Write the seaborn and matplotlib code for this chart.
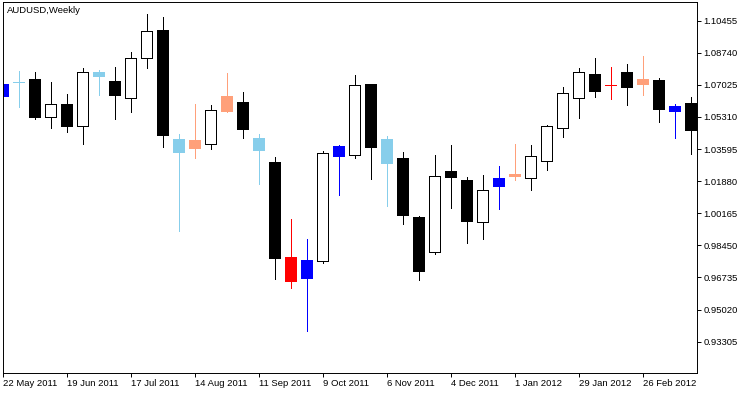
import matplotlib
matplotlib.use("Agg")
import matplotlib.pyplot as plt
import seaborn as sns

# weekly AUDUSD candles, 22 May 2011 .. Mar 2012
opens  = [1.06448, 1.07180, 1.07340, 1.05294, 1.05988, 1.04845, 1.07698, 1.07233, 1.06341, 1.08446,
          1.09958, 1.04118, 1.03669, 1.03851, 1.05646, 1.06095, 1.04188, 1.02905, 0.97829, 0.96724,
          0.97600, 1.03242, 1.03295, 1.07073, 1.04134, 1.03119, 0.99967, 0.98080, 1.02424, 1.01943,
          0.99683, 1.01639, 1.02173, 1.02035, 1.02943, 1.04706, 1.06341, 1.07607, 1.07019, 1.07714,
          1.07089, 1.07287, 1.05646, 1.06058]
highs  = [1.07120, 1.07767, 1.07730, 1.07180, 1.06539, 1.07912, 1.07837, 1.07981, 1.08783, 1.10813,
          1.10653, 1.04401, 1.06004, 1.05951, 1.07661, 1.06629, 1.04401, 1.03172, 0.99860, 0.98791,
          1.03493, 1.03798, 1.07554, 1.07073, 1.04295, 1.03440, 1.00020, 1.03279, 1.03814, 1.02104,
          1.02211, 1.02708, 1.03883, 1.03814, 1.04882, 1.06913, 1.07928, 1.08462, 1.07981, 1.08158,
          1.08585, 1.07393, 1.06004, 1.06378]
lows   = [1.06420, 1.05860, 1.05219, 1.04738, 1.04524, 1.03883, 1.06485, 1.05219, 1.05593, 1.07944,
          1.03723, 0.99235, 1.03135, 1.03616, 1.05593, 1.04204, 1.01746, 0.96670, 0.96189, 0.93892,
          0.97525, 1.01158, 1.03135, 1.02013, 1.00538, 0.99609, 0.96617, 0.98006, 1.00464, 0.98594,
          0.98807, 1.00394, 1.01943, 1.01409, 1.02494, 1.04257, 1.05272, 1.06394, 1.06287, 1.05967,
          1.06485, 1.05059, 1.04204, 1.03349]
closes = [1.07073, 1.07180, 1.05310, 1.05988, 1.04845, 1.07698, 1.07516, 1.06485, 1.08446, 1.09889,
          1.04364, 1.03456, 1.04081, 1.05668, 1.06416, 1.04685, 1.03563, 0.97792, 0.96563, 0.97669,
          1.03370, 1.03760, 1.07003, 1.03723, 1.02868, 1.00058, 0.97097, 1.02157, 1.02120, 0.99769,
          1.01393, 1.02051, 1.02280, 1.03226, 1.04829, 1.06576, 1.07698, 1.06715, 1.07019, 1.06913,
          1.07340, 1.05753, 1.05897, 1.04631]
# indicator signal per bar ("" = plain candle)
signals = ["bull_strong", "bear_weak", "", "", "", "", "bear_weak", "", "", "",
           "", "bear_weak", "bull_weak", "", "bull_weak", "", "bear_weak", "", "bear_strong", "bull_strong",
           "", "bull_strong", "", "", "bear_weak", "", "", "", "", "",
           "", "bull_strong", "bull_weak", "", "", "", "", "", "bear_strong", "",
           "bull_weak", "", "bull_strong", ""]

date_labels = ["22 May 2011", "19 Jun 2011", "17 Jul 2011", "14 Aug 2011", "11 Sep 2011",
               "9 Oct 2011", "6 Nov 2011", "4 Dec 2011", "1 Jan 2012", "29 Jan 2012", "26 Feb 2012"]
price_ticks = [1.10455, 1.08740, 1.07025, 1.05310, 1.03595, 1.01880,
               1.00165, 0.98450, 0.96735, 0.95020, 0.93305]

SIGNAL_COLORS = {"bull_strong": "#0000ff", "bull_weak": "#ffa07a",
                 "bear_strong": "#ff0000", "bear_weak": "#87ceeb"}

sns.set_theme(style="white")
plt.rcParams["font.family"] = ["Liberation Sans", "DejaVu Sans"]

W, H = 750, 394
fig = plt.figure(figsize=(W / 100, H / 100), dpi=100)
L, R, T, B = 2.5, 697.0, 2.0, 372.5
ax = fig.add_axes([L / W, 1 - B / H, (R - L) / W, (B - T) / H])

LW = 0.7  # ~1 px
for k, (o, h, l, c, s) in enumerate(zip(opens, highs, lows, closes, signals)):
    if s:
        face = edge = SIGNAL_COLORS[s]
    else:
        face = "white" if c >= o else "black"
        edge = "black"
    ax.vlines(k, l, h, color=edge, lw=LW, zorder=1, antialiased=False)
    ax.bar(k, abs(c - o), bottom=min(o, c), width=0.66, color=face,
           edgecolor=edge, linewidth=LW, zorder=2, antialiased=False)

ax.set_xlim(-0.001, -0.001 + (R - L) / 16)
ax.set_ylim(0.91659, 1.11454)

ax.set_xticks(range(0, len(opens), 4))
ax.set_xticklabels(date_labels, ha="left", fontsize=6.8)
ax.yaxis.tick_right()
ax.set_yticks(price_ticks)
ax.set_yticklabels([f"{p:.5f}" for p in price_ticks], fontsize=6.8)
ax.tick_params(axis="both", direction="out", length=3, width=LW, color="black",
               labelcolor="black", bottom=True, right=True, left=False)
ax.tick_params(axis="x", pad=2)
ax.tick_params(axis="y", pad=1.5)
for sp in ax.spines.values():
    sp.set_color("black")
    sp.set_linewidth(LW)
ax.grid(False)

fig.text(7 / W, 1 - 12.7 / H, "AUDUSD,Weekly", fontsize=6.8, color="black", va="baseline")

fig.savefig("out.png", dpi=100)
